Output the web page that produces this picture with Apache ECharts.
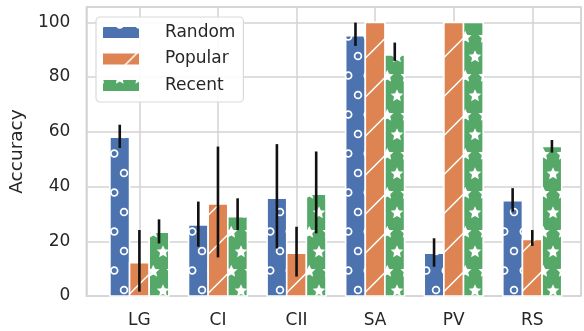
<!DOCTYPE html>
<html>
<head>
<meta charset="utf-8">
<script src="https://cdn.jsdelivr.net/npm/echarts@6/dist/echarts.min.js"></script>
<style>
html,body{margin:0;padding:0;background:#fff;}
#chart{width:584px;height:331px;}
</style>
</head>
<body>
<div id="chart"></div>
<script>
// ---- data ----
var categories = ['LG', 'CI', 'CII', 'SA', 'PV', 'RS'];
var seriesNames = ['Random', 'Popular', 'Recent'];
var randomVals  = [58.0, 26.0, 35.7, 95.1, 15.6, 34.8];
var popularVals = [12.2, 33.6, 15.6, 100, 100, 20.7];
var recentVals  = [23.3, 29.0, 37.2, 88.1, 100, 54.6];
// error bar ends (low, high); null = no error bar
var randomLow   = [54.1, 18.0, 17.4, 91.4, 10.7, 30.8];
var randomHigh  = [62.6, 34.5, 55.5, 99.9, 21.1, 39.4];
var popularLow  = [1.6, 14.1, 7.1, null, null, 18.3];
var popularHigh = [24.1, 54.6, 25.3, null, null, 24.1];
var recentLow   = [19.2, 24.1, 22.9, 85.9, null, 52.4];
var recentHigh  = [28.0, 35.7, 52.8, 92.6, null, 57.0];
var yTicks = [0, 20, 40, 60, 80, 100];

// ---- hatch patterns ----
var T = 39, P = 19.5;
function makeTile(color, kind) {
  var c = document.createElement('canvas');
  c.width = T; c.height = T;
  var g = c.getContext('2d');
  g.fillStyle = color; g.fillRect(0, 0, T, T);
  g.strokeStyle = '#fff'; g.fillStyle = '#fff';
  if (kind === 'lines') {
    g.lineWidth = 1.5;
    for (var k = -1; k <= 1; k++) {
      var cc = 33.5 + k * T;
      g.beginPath(); g.moveTo(cc + 20, -20); g.lineTo(-20, cc + 20); g.stroke();
    }
  } else {
    for (var r = -2; r <= 3; r++) {
      var y = 17 + r * P;
      var x0 = (Math.abs(r) % 2 === 0) ? 7 : 7 + P / 2;
      for (var i = -2; i <= 3; i++) {
        var x = x0 + i * P;
        if (kind === 'circles') {
          g.lineWidth = 1.7;
          g.beginPath(); g.arc(x, y, 3.4, 0, Math.PI * 2); g.stroke();
        } else {
          var R = 6.6, ri = 3.1;
          g.beginPath();
          for (var s = 0; s < 10; s++) {
            var rr = (s % 2 === 0) ? R : ri;
            var a = -Math.PI / 2 + s * Math.PI / 5;
            var px = x + rr * Math.cos(a), py = y + 0.8 + rr * Math.sin(a);
            if (s === 0) g.moveTo(px, py); else g.lineTo(px, py);
          }
          g.closePath(); g.fill();
        }
      }
    }
  }
  return { image: c, repeat: 'repeat' };
}
var colors = ['#4C72B0', '#DD8452', '#55A868'];
var patterns = [
  makeTile(colors[0], 'circles'),
  makeTile(colors[1], 'lines'),
  makeTile(colors[2], 'stars')
];

var BAR_W = 0.25;
var allVals = [randomVals, popularVals, recentVals];
var allLow = [randomLow, popularLow, recentLow];
var allHigh = [randomHigh, popularHigh, recentHigh];

function buildData(si) {
  return categories.map(function (c, i) {
    return [i, allVals[si][i], allLow[si][i] == null ? NaN : allLow[si][i], allHigh[si][i] == null ? NaN : allHigh[si][i]];
  });
}
function makeRender(si) {
  return function (params, api) {
    var cat = api.value(0), val = api.value(1), lo = api.value(2), hi = api.value(3);
    var xc = cat + (si - 1) * BAR_W;
    var tl = api.coord([xc - BAR_W / 2, val]);
    var br = api.coord([xc + BAR_W / 2, 0]);
    var children = [{
      type: 'rect',
      shape: { x: tl[0], y: tl[1], width: br[0] - tl[0], height: br[1] - tl[1] },
      style: { fill: patterns[si], stroke: '#ffffff', lineWidth: 1.6 }
    }];
    if (!isNaN(lo) && !isNaN(hi)) {
      var e1 = api.coord([xc, hi]), e2 = api.coord([xc, lo]);
      children.push({
        type: 'line',
        shape: { x1: e1[0], y1: e1[1], x2: e2[0], y2: e2[1] },
        style: { stroke: '#111', lineWidth: 2.6 }
      });
    }
    return { type: 'group', children: children };
  };
}

var FONT = 'DejaVu Sans';
var GRID_COLOR = '#d3d3d3';
var chart = echarts.init(document.getElementById('chart'), null, { renderer: 'canvas' });
chart.setOption({
  animation: false,
  backgroundColor: '#ffffff',
  textStyle: { fontFamily: FONT },
  grid: { left: 86, right: 1, top: 7, bottom: 35, show: true, borderColor: GRID_COLOR, borderWidth: 1.5, backgroundColor: 'transparent' },
  legend: {
    data: seriesNames,
    orient: 'vertical',
    left: 96, top: 17,
    icon: 'rect',
    itemWidth: 36, itemHeight: 11, itemGap: 6.5,
    padding: [5.5, 8, 6.5, 7],
    backgroundColor: 'rgba(255,255,255,0.9)',
    borderColor: '#d9d9d9', borderWidth: 1.2, borderRadius: 4,
    textStyle: { fontFamily: FONT, fontSize: 17, color: '#262626', lineHeight: 20, padding: [0, 0, 0, 21] }
  },
  xAxis: {
    type: 'value', min: -0.675, max: 5.62, minInterval: 1, maxInterval: 1,
    axisLine: { show: false }, axisTick: { show: false },
    splitLine: { show: true, lineStyle: { color: GRID_COLOR, width: 1.5 } },
    axisLabel: {
      margin: 16, fontSize: 17, color: '#262626', fontFamily: FONT,
      formatter: function (v) {
        var r = Math.round(v);
        return (Math.abs(v - r) < 1e-6 && r >= 0 && r < categories.length) ? categories[r] : '';
      }
    }
  },
  yAxis: {
    type: 'value', min: 0, max: 105.6, minInterval: 20, maxInterval: 20,
    name: 'Accuracy', nameLocation: 'middle', nameGap: 58,
    nameTextStyle: { fontSize: 18.5, color: '#262626', fontFamily: FONT },
    axisLine: { show: false }, axisTick: { show: false },
    splitLine: { show: true, lineStyle: { color: GRID_COLOR, width: 1.5 } },
    axisLabel: {
      margin: 16, fontSize: 17, color: '#262626', fontFamily: FONT,
      formatter: function (v) {
        return yTicks.indexOf(Math.round(v)) >= 0 && Math.abs(v - Math.round(v)) < 1e-6 ? String(Math.round(v)) : '';
      }
    }
  },
  series: seriesNames.map(function (n, si) {
    return {
      type: 'custom', name: n,
      itemStyle: { color: patterns[si] },
      renderItem: makeRender(si),
      encode: { x: 0, y: 1 },
      data: buildData(si)
    };
  })
});
</script>
</body>
</html>
